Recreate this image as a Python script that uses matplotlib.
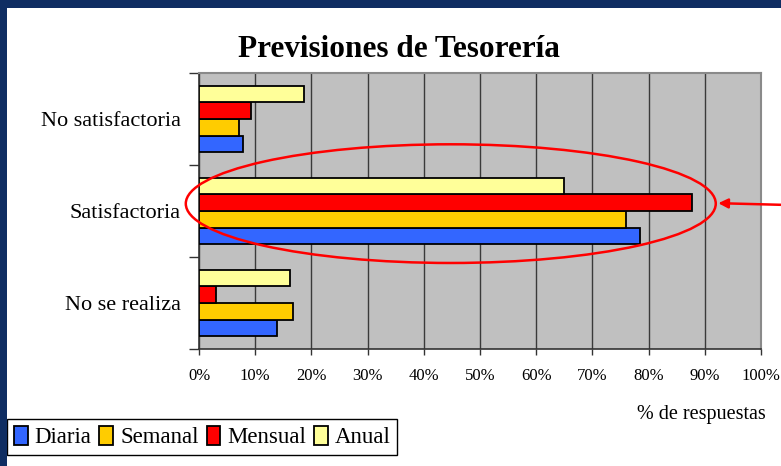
import numpy as np
import matplotlib
matplotlib.use("Agg")
import matplotlib.pyplot as plt
from matplotlib.patches import Ellipse, Rectangle

plt.rcParams['font.family'] = ['Liberation Serif', 'DejaVu Serif']

categories = ["No se realiza", "Satisfactoria", "No satisfactoria"]
series = ["Diaria", "Semanal", "Mensual", "Anual"]
diaria = [13.8, 78.5, 7.9]
semanal = [16.8, 76.0, 7.1]
mensual = [3.1, 87.8, 9.3]
anual = [16.2, 65.0, 18.6]
colors = ["#3366FF", "#FFCC00", "#FF0000", "#FFFF99"]
xticks = np.arange(0, 101, 10)

fig = plt.figure(figsize=(7.81, 4.66), dpi=100)
fig.patch.set_facecolor('white')
ax = fig.add_axes([199 / 781, 1 - 349 / 466, 562 / 781, 276 / 466])
ax.set_facecolor('#C0C0C0')

y = np.arange(len(categories))
h = 0.18
offsets = [-1.5 * h, -0.5 * h, 0.5 * h, 1.5 * h]
for vals, name, col, off in zip([diaria, semanal, mensual, anual], series, colors, offsets):
    ax.barh(y + off, vals, height=h, color=col, edgecolor='black', linewidth=1.3,
            label=name, zorder=3)

ax.set_xlim(0, 100)
ax.set_ylim(-0.5, 2.5)
ax.set_xticks(xticks)
ax.set_xticklabels([f"{v}%" for v in xticks], fontsize=12)
ax.xaxis.grid(True, color='#3a3a3a', linewidth=1.0, zorder=1)
ax.set_axisbelow(True)

# category boundaries get the ticks, names sit in between
ax.set_yticks([-0.5, 0.5, 1.5, 2.5])
ax.set_yticklabels([])
ax.set_yticks(y, minor=True)
ax.set_yticklabels(categories, minor=True, fontsize=16)
ax.tick_params(axis='y', which='major', length=7, width=1, color='#333333')
ax.tick_params(axis='y', which='minor', length=0, pad=13)
ax.tick_params(axis='x', length=4, width=1, color='#333333', pad=10)

for s in ['top', 'right']:
    ax.spines[s].set_color('#8a8a8a')
    ax.spines[s].set_linewidth(1.5)
for s in ['left', 'bottom']:
    ax.spines[s].set_color('#333333')
    ax.spines[s].set_linewidth(1.2)

fig.text(0.511, 1 - 57 / 466, "Previsiones de Tesorería", ha='center', va='baseline',
         fontsize=22.5, fontweight='bold')
fig.text(701 / 781, 1 - 415 / 466, "% de respuestas", ha='center', va='center', fontsize=14.5)

leg = ax.legend(loc='lower left', bbox_to_anchor=(7 / 781, 1 - 455 / 466),
                bbox_transform=fig.transFigure, ncol=4, fontsize=16.5,
                frameon=True, fancybox=False, edgecolor='black', framealpha=1,
                handlelength=0.6, handleheight=0.9, handletextpad=0.3,
                columnspacing=0.35, borderpad=0.3, borderaxespad=0)
leg.get_frame().set_linewidth(1.0)

# highlight around Satisfactoria
ax.add_patch(Ellipse((44.8, 1.08), 94.3, 1.29, fill=False, edgecolor='#FF0000',
                     linewidth=1.8, clip_on=False, zorder=5))
ax.annotate('', xy=(92.4, 1.085), xytext=(105, 1.065), xycoords='data',
            textcoords='data', annotation_clip=False,
            arrowprops=dict(arrowstyle='-|>', color='#FF0000', lw=1.8,
                            mutation_scale=14, shrinkA=0, shrinkB=0))

# dark blue frame pieces at top and left
fig.patches.append(Rectangle((0, 1 - 8 / 466), 1, 8 / 466, transform=fig.transFigure,
                             facecolor='#0F2D62', edgecolor='none', zorder=10))
fig.patches.append(Rectangle((0, 0), 7 / 781, 1, transform=fig.transFigure,
                             facecolor='#0F2D62', edgecolor='none', zorder=10))

fig.savefig('out.png', dpi=100)
